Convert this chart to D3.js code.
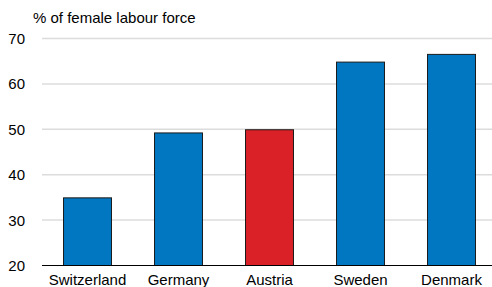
<!DOCTYPE html>
<html>
<head>
<meta charset="utf-8">
<script src="https://cdn.jsdelivr.net/npm/d3@7"></script>
<style>
  body { margin: 0; background: #fff; }
  svg text { font-family: "Liberation Sans", Arial, sans-serif; fill: #000; }
</style>
</head>
<body>
<div id="chart"></div>
<script>
var countries = ["Switzerland", "Germany", "Austria", "Sweden", "Denmark"];
var shares = [34.9, 49.2, 49.9, 64.8, 66.5];
var yTicks = [20, 30, 40, 50, 60, 70];
var highlight = "Austria";

var W = 492, H = 287;
var margin = { left: 42, right: 497, top: 38.5, bottom: 265.5 };

var svg = d3.select("#chart").append("svg")
    .attr("width", W)
    .attr("height", H)
    .style("display", "block");

var x = d3.scaleBand()
    .domain(countries)
    .range([margin.left, margin.right])
    .paddingInner(0.473)
    .paddingOuter(0.2365);

var y = d3.scaleLinear()
    .domain([20, 70])
    .range([margin.bottom, margin.top]);

// gridlines
svg.append("g")
    .selectAll("line")
    .data(yTicks.slice(1))
    .enter().append("line")
    .attr("x1", margin.left)
    .attr("x2", W)
    .attr("y1", function (d) { return y(d); })
    .attr("y2", function (d) { return y(d); })
    .attr("stroke", "#dcdcdc")
    .attr("stroke-width", 1.5);

// y tick labels
svg.append("g")
    .selectAll("text")
    .data(yTicks)
    .enter().append("text")
    .attr("x", 25)
    .attr("y", function (d) { return y(d); })
    .attr("dy", "0.36em")
    .attr("text-anchor", "end")
    .style("font-size", "15px")
    .text(function (d) { return d; });

// bars
svg.append("g")
    .selectAll("rect")
    .data(countries)
    .enter().append("rect")
    .attr("x", function (d) { return x(d); })
    .attr("width", x.bandwidth())
    .attr("y", function (d, i) { return y(shares[i]); })
    .attr("height", function (d, i) { return y(20) - y(shares[i]); })
    .attr("fill", function (d) { return d === highlight ? "#da2128" : "#0077c0"; })
    .attr("stroke", "#1a1a1a")
    .attr("stroke-width", 1);

// baseline
svg.append("line")
    .attr("x1", margin.left)
    .attr("x2", W)
    .attr("y1", y(20))
    .attr("y2", y(20))
    .attr("stroke", "#000")
    .attr("stroke-width", 1.2);

// category labels
svg.append("g")
    .selectAll("text")
    .data(countries)
    .enter().append("text")
    .attr("x", function (d) { return x(d) + x.bandwidth() / 2; })
    .attr("y", 285)
    .attr("text-anchor", "middle")
    .style("font-size", "15px")
    .text(function (d) { return d; });

// axis title
svg.append("text")
    .attr("x", 33)
    .attr("y", 23)
    .style("font-size", "15px")
    .text("% of female labour force");
</script>
</body>
</html>
